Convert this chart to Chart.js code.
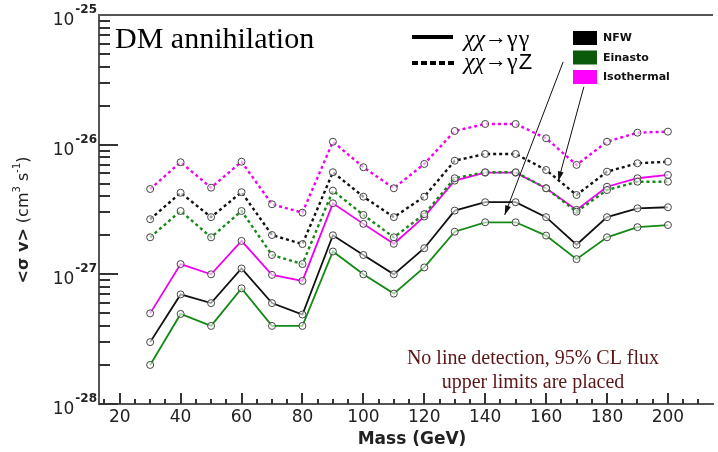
<!DOCTYPE html>
<html>
<head>
<meta charset="utf-8">
<script src="https://cdn.jsdelivr.net/npm/chart.js@4.4.1/dist/chart.umd.min.js"></script>
<style>
  html, body { margin: 0; padding: 0; background: #fff; }
  #wrap { width: 718px; height: 452px; }
</style>
</head>
<body>
<div id="wrap"><canvas id="myChart"></canvas></div>
<script>
// WIMP masses (GeV)
const masses = [30, 40, 50, 60, 70, 80, 90, 100, 110, 120, 130, 140, 150, 160, 170, 180, 190, 200];

// upper limits on <sigma v> (cm^3 s^-1), chi chi -> gamma gamma
const nfwGG      = [3.0e-28, 7.0e-28, 6.0e-28, 1.11e-27, 6.0e-28, 4.9e-28, 2.0e-27, 1.41e-27, 1.0e-27, 1.59e-27, 3.1e-27, 3.6e-27, 3.6e-27, 2.76e-27, 1.69e-27, 2.76e-27, 3.23e-27, 3.29e-27];
const einastoGG  = [2.0e-28, 4.95e-28, 4.0e-28, 7.8e-28, 4.0e-28, 4.0e-28, 1.5e-27, 1.0e-27, 7.1e-28, 1.13e-27, 2.13e-27, 2.52e-27, 2.52e-27, 1.99e-27, 1.31e-27, 1.93e-27, 2.31e-27, 2.4e-27];
const isoGG      = [5.0e-28, 1.2e-27, 1.0e-27, 1.81e-27, 9.9e-28, 8.9e-28, 3.53e-27, 2.45e-27, 1.72e-27, 2.79e-27, 5.28e-27, 6.08e-27, 6.08e-27, 4.61e-27, 3.14e-27, 4.74e-27, 5.51e-27, 5.84e-27];

// chi chi -> gamma Z
const nfwGZ      = [2.66e-27, 4.26e-27, 2.76e-27, 4.3e-27, 2.01e-27, 1.71e-27, 6.13e-27, 3.97e-27, 2.76e-27, 3.97e-27, 7.52e-27, 8.48e-27, 8.48e-27, 6.38e-27, 4.09e-27, 6.19e-27, 7.19e-27, 7.39e-27];
const einastoGZ  = [1.93e-27, 3.08e-27, 1.93e-27, 3.08e-27, 1.41e-27, 1.2e-27, 4.42e-27, 2.87e-27, 1.93e-27, 2.91e-27, 5.51e-27, 6.13e-27, 6.13e-27, 4.61e-27, 3.04e-27, 4.47e-27, 5.18e-27, 5.18e-27];
const isoGZ      = [4.55e-27, 7.32e-27, 4.66e-27, 7.39e-27, 3.47e-27, 2.99e-27, 1.054e-26, 6.7e-27, 4.61e-27, 7.1e-27, 1.275e-26, 1.444e-26, 1.444e-26, 1.12e-26, 6.98e-27, 1.054e-26, 1.237e-26, 1.26e-26];

// axis ticks
const xTickLabels = [20, 40, 60, 80, 100, 120, 140, 160, 180, 200];
const xTickMarks = [15, 20, 25, 30, 35, 40, 45, 50, 55, 60, 65, 70, 75, 80, 85, 90, 95, 100, 105, 110,
                    115, 120, 125, 130, 135, 140, 145, 150, 155, 160, 165, 170, 175, 180, 185, 190, 195, 200, 205, 210];
const yTickExps = [-28, -27, -26, -25];

// arrows in data coordinates: [fromMass, fromValue, toMass, toValue]
const arrows = [
  [165.6, 4.35e-26, 146.4, 2.87e-27],
  [172.4, 2.79e-26, 164.0, 5.25e-27]
];

const BLACK = '#111111';
const GREEN = '#138a13';
const MAGENTA = '#f000f0';

function series(label, values, color, dashed) {
  return {
    label: label,
    data: masses.map((m, i) => ({ x: m, y: values[i] })),
    borderColor: color,
    borderWidth: dashed ? 2.4 : 1.8,
    borderDash: dashed ? [3, 3] : [],
    pointRadius: 3.5,
    pointBorderWidth: 1,
    pointBorderColor: '#444',
    pointBackgroundColor: 'rgba(255,255,255,0.6)',
    tension: 0
  };
}

function arrow(ctx, x1, y1, x2, y2) {
  const ang = Math.atan2(y2 - y1, x2 - x1);
  ctx.beginPath();
  ctx.moveTo(x1, y1);
  ctx.lineTo(x2, y2);
  ctx.stroke();
  ctx.beginPath();
  ctx.moveTo(x2, y2);
  ctx.lineTo(x2 - 10 * Math.cos(ang - 0.3), y2 - 10 * Math.sin(ang - 0.3));
  ctx.lineTo(x2 - 10 * Math.cos(ang + 0.3), y2 - 10 * Math.sin(ang + 0.3));
  ctx.closePath();
  ctx.fill();
}

// inward tick marks on both axes
const tickMarks = {
  id: 'tickMarks',
  afterDatasetsDraw(chart) {
    const c = chart.ctx;
    const x = chart.scales.x;
    const y = chart.scales.y;
    const left = x.left;
    const bottom = y.bottom;
    c.save();
    c.fillStyle = '#333';
    xTickMarks.forEach(m => {
      const px = Math.round(x.getPixelForValue(m));
      const len = xTickLabels.includes(m) ? 11 : 5;
      c.fillRect(px - 1, bottom - len, 2, len);
    });
    yTickExps.forEach(e => {
      for (let k = 1; k <= 9; k++) {
        if (e === -25 && k > 1) break;
        const py = Math.round(y.getPixelForValue(k * Math.pow(10, e)));
        const len = (k === 1) ? 19 : 11;
        c.fillRect(left, py - 1, len, 2);
      }
    });
    c.restore();
  }
};

// frame, log labels, titles, legend and notes
const decorations = {
  id: 'decorations',
  afterDraw(chart) {
    const c = chart.ctx;
    const a = chart.chartArea;
    const x = chart.scales.x;
    const y = chart.scales.y;
    c.save();
    c.setLineDash([]);

    // top frame edge
    c.fillStyle = '#555';
    c.fillRect(a.left - 1, a.top - 1, a.right - a.left + 1, 2);

    // y tick labels 10^n
    c.fillStyle = '#222';
    c.textBaseline = 'alphabetic';
    yTickExps.forEach(e => {
      const py = y.getPixelForValue(Math.pow(10, e));
      const sup = '-' + String(-e);
      c.font = 'bold 12px "DejaVu Sans"';
      const sw = c.measureText(sup).width;
      const right = a.left - 2;
      c.textAlign = 'left';
      c.fillText(sup, right - sw, py - 2);
      c.font = '17px "DejaVu Sans"';
      c.textAlign = 'right';
      c.fillText('10', right - sw - 1, py + 10);
    });

    // y title
    c.save();
    c.translate(23, 220);
    c.rotate(-Math.PI / 2);
    const parts = [
      ['<σ v>', 'bold 16px "DejaVu Sans"', 5],
      [' (cm', '16px "DejaVu Sans"', 5],
      ['3', '10px "DejaVu Sans"', -3],
      [' s', '16px "DejaVu Sans"', 5],
      ['-1', '10px "DejaVu Sans"', -3],
      [')', '16px "DejaVu Sans"', 5]
    ];
    let total = 0;
    parts.forEach(p => { c.font = p[1]; total += c.measureText(p[0]).width; });
    let cx = -total / 2;
    c.textAlign = 'left';
    parts.forEach(p => {
      c.font = p[1];
      c.fillText(p[0], cx, p[2]);
      cx += c.measureText(p[0]).width;
    });
    c.restore();

    // x title
    c.font = 'bold 17px "DejaVu Sans"';
    c.textAlign = 'center';
    c.fillText('Mass (GeV)', 412, 444);

    // plot label
    c.fillStyle = '#000';
    c.font = '30px "Liberation Serif"';
    c.textAlign = 'left';
    c.fillText('DM annihilation', 115, 48);

    // channel legend
    c.fillRect(412, 35, 41, 4);
    for (let d = 412; d < 453; d += 9) c.fillRect(d, 61, 6, 4);
    const chans = [['γ', 'γ', 46], ['γ', 'Z', 69]];
    chans.forEach(ch => {
      let tx = 464;
      c.font = 'italic 24px "Liberation Serif"';
      c.fillText('χχ', tx, ch[2]);
      tx += c.measureText('χχ').width;
      c.font = '22px "Liberation Serif"';
      c.fillText('→', tx, ch[2] - 2);
      tx += c.measureText('→').width;
      c.font = '24px "Liberation Serif"';
      c.fillText(ch[0], tx, ch[2]);
      tx += c.measureText(ch[0]).width;
      c.font = ch[1] === 'Z' ? '22px "Liberation Sans"' : '24px "Liberation Serif"';
      c.fillText(ch[1], tx + 1, ch[2]);
    });

    // halo profile legend
    const halos = [['NFW', '#000000'], ['Einasto', '#0b5a0b'], ['Isothermal', '#ff00ff']];
    c.font = 'bold 11px "DejaVu Sans"';
    c.textBaseline = 'middle';
    halos.forEach((h, i) => {
      const top = 31 + i * 19.5;
      c.fillStyle = h[1];
      c.fillRect(573, top, 24, 14);
      c.fillStyle = '#111';
      c.fillText(h[0], 603, top + 7.5);
    });

    // arrows to the two channels
    c.strokeStyle = '#111';
    c.fillStyle = '#111';
    c.lineWidth = 1;
    arrows.forEach(r => {
      arrow(c, x.getPixelForValue(r[0]), y.getPixelForValue(r[1]),
               x.getPixelForValue(r[2]), y.getPixelForValue(r[3]));
    });

    // note
    c.fillStyle = '#5b1616';
    c.font = '20px "Liberation Serif"';
    c.textAlign = 'center';
    c.textBaseline = 'alphabetic';
    c.fillText('No line detection, 95% CL flux', 533, 364);
    c.fillText('upper limits are placed', 533, 388);

    c.restore();
  }
};

const ctx = document.getElementById('myChart');

new Chart(ctx, {
  type: 'line',
  data: {
    datasets: [
      series('NFW γZ', nfwGZ, BLACK, true),
      series('Einasto γZ', einastoGZ, GREEN, true),
      series('Isothermal γZ', isoGZ, MAGENTA, true),
      series('NFW γγ', nfwGG, BLACK, false),
      series('Einasto γγ', einastoGG, GREEN, false),
      series('Isothermal γγ', isoGG, MAGENTA, false)
    ]
  },
  options: {
    responsive: true,
    maintainAspectRatio: false,
    animation: false,
    layout: { padding: { top: 15, right: 0, left: 0, bottom: 0 } },
    scales: {
      x: {
        type: 'linear',
        min: 13.2,
        max: 214.8,
        grid: { display: false, drawTicks: false },
        border: { display: true, color: '#555', width: 2 },
        afterFit: s => { s.height = 48; },
        ticks: {
          stepSize: 20,
          includeBounds: false,
          autoSkip: false,
          maxRotation: 0,
          padding: 3,
          color: '#222',
          font: { family: 'DejaVu Sans', size: 17 },
          callback: v => xTickLabels.includes(v) ? String(v) : ''
        }
      },
      y: {
        type: 'logarithmic',
        min: 1e-28,
        max: 1e-25,
        grid: { display: false, drawTicks: false },
        border: { display: true, color: '#555', width: 2 },
        afterFit: s => { s.width = 99; },
        ticks: { display: false }
      }
    },
    plugins: {
      legend: { display: false },
      tooltip: { enabled: false }
    }
  },
  plugins: [tickMarks, decorations]
});
</script>
</body>
</html>
